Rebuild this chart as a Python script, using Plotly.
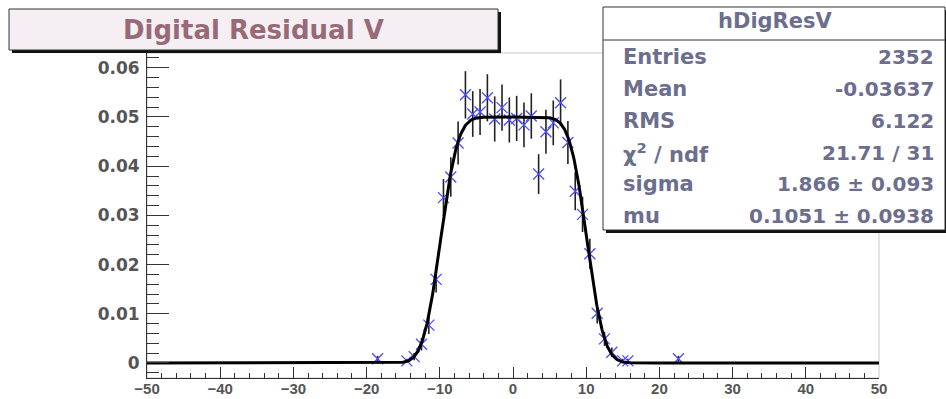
import math
import numpy as np
import plotly.graph_objects as go

# ---------------- data ----------------
bin_centers = [-18.5, -14.5, -13.5, -12.5, -11.5, -10.5, -9.5, -8.5, -7.5, -6.5,
               -5.5, -4.5, -3.5, -2.5, -1.5, -0.5, 0.5, 1.5, 2.5, 3.5,
               4.5, 5.5, 6.5, 7.5, 8.5, 9.5, 10.5, 11.5, 12.5, 13.5,
               15.0, 15.7, 22.6]
bin_values = [0.00085, 0.00043, 0.0013, 0.0038, 0.0077, 0.0170, 0.0336, 0.0378, 0.0447, 0.0545,
              0.0506, 0.0510, 0.0539, 0.0496, 0.0519, 0.0494, 0.0497, 0.0484, 0.0502, 0.0384,
              0.0470, 0.0488, 0.0529, 0.0448, 0.0349, 0.0302, 0.0222, 0.0101, 0.0049, 0.0022,
              0.00043, 0.00043, 0.00085]
bin_errors = [0.00060, 0.00043, 0.00074, 0.00127, 0.00181, 0.00269, 0.00378, 0.00401, 0.00436, 0.00481,
              0.00464, 0.00466, 0.00479, 0.00459, 0.00470, 0.00458, 0.00460, 0.00454, 0.00462, 0.00404,
              0.00447, 0.00455, 0.00474, 0.00436, 0.00385, 0.00358, 0.00307, 0.00207, 0.00144, 0.00097,
              0.00043, 0.00043, 0.00060]

x_tick_values = [-50, -40, -30, -20, -10, 0, 10, 20, 30, 40, 50]
y_tick_values = [0, 0.01, 0.02, 0.03, 0.04, 0.05, 0.06]
y_tick_labels = ["0", "0.01", "0.02", "0.03", "0.04", "0.05", "0.06"]

title_text = "Digital Residual V"
stats_name = "hDigResV"
stats_labels = ["Entries", "Mean", "RMS", "χ<sup>2</sup> / ndf", "sigma", "mu"]
stats_values = ["2352", "-0.03637", "6.122", "21.71 / 31", "1.866 ± 0.093", "0.1051 ± 0.0938"]

# fit parameters (box of half-width 10 convolved with a Gaussian)
FIT_SIGMA = 1.866
FIT_MU = 0.1051
FIT_HALF_WIDTH = 10.0
FIT_PLATEAU = 0.05

fit_x = np.linspace(-50, 50, 1201)
fit_y = [FIT_PLATEAU / 2.0 * (math.erf((v - FIT_MU + FIT_HALF_WIDTH) / (math.sqrt(2) * FIT_SIGMA))
                              - math.erf((v - FIT_MU - FIT_HALF_WIDTH) / (math.sqrt(2) * FIT_SIGMA)))
         for v in fit_x]

# ---------------- layout geometry (pixels) ----------------
W, H = 946, 399
PL, PR, PT, PB = 147, 879, 53, 378


def px(x):
    return (x - PL) / (PR - PL)


def py(y):
    return (PB - y) / (PB - PT)


FONT = "DejaVu Sans"
STATS_COLOR = "#6c6e8e"
TITLE_COLOR = "#986a78"
AXIS_COLOR = "#333333"
LABEL_COLOR = "#555555"

fig = go.Figure()

fig.add_trace(go.Scatter(
    x=bin_centers, y=bin_values, mode="markers",
    marker=dict(symbol="x-thin-open", size=11, color="#4b4bff",
                line=dict(width=1.3, color="#4b4bff")),
    error_y=dict(type="data", array=bin_errors, visible=True,
                 color="#222222", thickness=1.6, width=0),
    showlegend=False, hoverinfo="x+y",
))

fig.add_trace(go.Scatter(
    x=fit_x, y=fit_y, mode="lines",
    line=dict(color="black", width=3),
    showlegend=False, hoverinfo="skip",
))

shapes = []
# light frame (top/right)
shapes.append(dict(type="rect", xref="paper", yref="paper", x0=0, x1=1, y0=0, y1=1,
                   line=dict(color="#c8c8c8", width=1), layer="below"))

# title box: shadow + box
shapes.append(dict(type="rect", xref="paper", yref="paper",
                   x0=px(12), x1=px(501), y0=py(53), y1=py(12),
                   line=dict(width=0), fillcolor="#111111", layer="above"))
shapes.append(dict(type="rect", xref="paper", yref="paper",
                   x0=px(9), x1=px(498), y0=py(50), y1=py(9),
                   line=dict(width=1, color="#333333"), fillcolor="#f5eff3", layer="above"))

# stats box: shadow + box + header separator
shapes.append(dict(type="rect", xref="paper", yref="paper",
                   x0=px(606), x1=px(948), y0=py(233), y1=py(10),
                   line=dict(width=0), fillcolor="#111111", layer="above"))
shapes.append(dict(type="rect", xref="paper", yref="paper",
                   x0=px(603), x1=px(945), y0=py(230), y1=py(7),
                   line=dict(width=1, color="#333333"), fillcolor="white", layer="above"))
shapes.append(dict(type="line", xref="paper", yref="paper",
                   x0=px(603), x1=px(945), y0=py(40), y1=py(40),
                   line=dict(width=1, color="#333333"), layer="above"))

annotations = []
annotations.append(dict(xref="paper", yref="paper", x=px(253), y=py(30),
                        text=title_text, showarrow=False, xanchor="center", yanchor="middle",
                        font=dict(family=FONT, size=26, color=TITLE_COLOR, weight="bold")))
annotations.append(dict(xref="paper", yref="paper", x=px(775), y=py(21),
                        text=stats_name, showarrow=False, xanchor="center", yanchor="middle",
                        font=dict(family=FONT, size=21, color=STATS_COLOR, weight="bold")))
row_y = [57, 89, 121, 153, 184, 216]
for lab, val, yy in zip(stats_labels, stats_values, row_y):
    annotations.append(dict(xref="paper", yref="paper", x=px(621), y=py(yy),
                            text=lab, showarrow=False, xanchor="left", yanchor="middle",
                            font=dict(family=FONT, size=21, color=STATS_COLOR, weight="bold")))
    annotations.append(dict(xref="paper", yref="paper", x=px(936), y=py(yy),
                            text=val, showarrow=False, xanchor="right", yanchor="middle",
                            font=dict(family=FONT, size=20, color=STATS_COLOR, weight="bold")))

fig.update_layout(
    width=W, height=H,
    margin=dict(l=PL, r=W - PR, t=PT, b=H - PB, autoexpand=False),
    paper_bgcolor="white", plot_bgcolor="white",
    shapes=shapes, annotations=annotations,
    showlegend=False,
)

fig.update_xaxes(
    range=[-50, 50], tickmode="array", tickvals=x_tick_values,
    ticks="inside", ticklen=11, tickwidth=1, tickcolor=AXIS_COLOR,
    minor=dict(dtick=2, tick0=0, ticks="inside", ticklen=5, tickwidth=1, tickcolor=AXIS_COLOR),
    showline=True, linecolor=AXIS_COLOR, linewidth=1,
    showgrid=False, zeroline=False, automargin=False,
    tickfont=dict(family="Liberation Sans", size=15, color=LABEL_COLOR, weight="bold"),
    ticklabelstandoff=-3,
)
fig.update_yaxes(
    range=[-0.00305, 0.063], tickmode="array", tickvals=y_tick_values, ticktext=y_tick_labels,
    ticks="inside", ticklen=22, tickwidth=1, tickcolor=AXIS_COLOR,
    minor=dict(dtick=0.002, tick0=0, ticks="inside", ticklen=12, tickwidth=1, tickcolor=AXIS_COLOR),
    showline=True, linecolor=AXIS_COLOR, linewidth=1,
    showgrid=False, zeroline=False, automargin=False,
    tickfont=dict(family=FONT, size=17, color=LABEL_COLOR, weight="bold"),
    ticklabelstandoff=3,
)

fig.write_html("out.html")
